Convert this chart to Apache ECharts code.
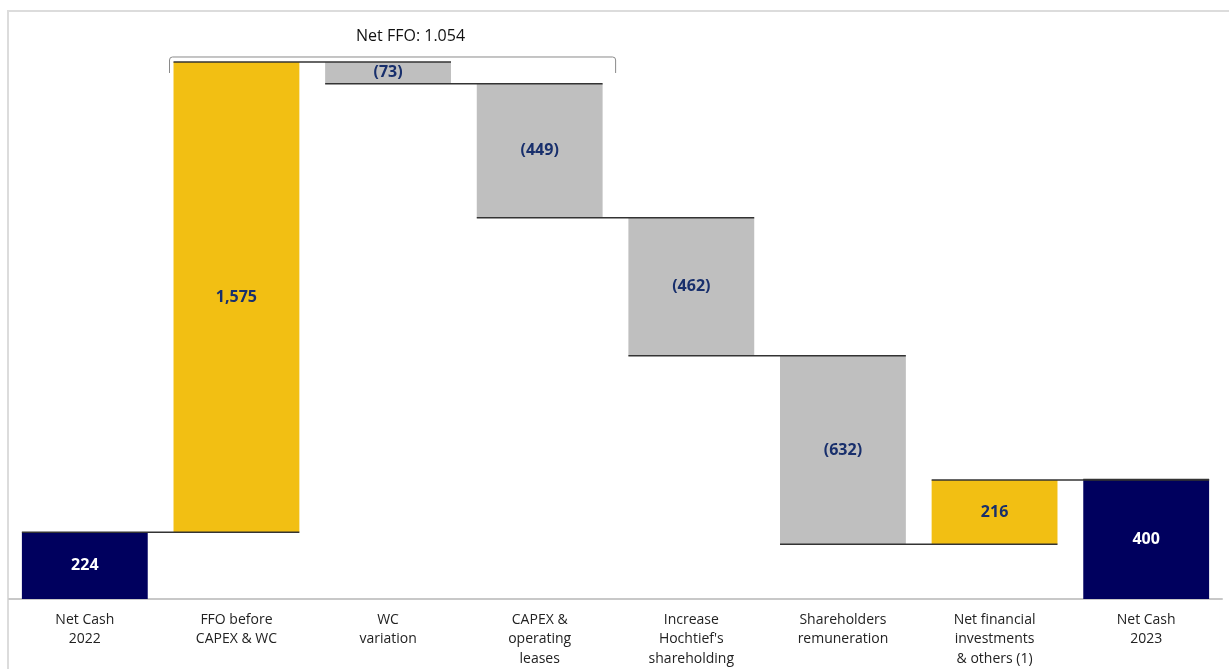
<!DOCTYPE html>
<html>
<head>
<meta charset="utf-8">
<script src="https://cdn.jsdelivr.net/npm/echarts@6/dist/echarts.min.js"></script>
<style>
  html, body { margin: 0; padding: 0; background: #fff; }
  #frame {
    position: absolute; left: 7px; top: 10px; right: 0; bottom: 0;
    border-top: 2px solid #dcdcdc; border-left: 2px solid #dcdcdc;
  }
  #chart { position: absolute; left: 0; top: 0; width: 1229px; height: 669px; }
</style>
</head>
<body>
<div id="frame"></div>
<div id="chart"></div>
<script>
const categories = [
  'Net Cash\n2022',
  'FFO before\nCAPEX & WC',
  'WC\nvariation',
  'CAPEX &\noperating\nleases',
  'Increase\nHochtief\'s\nshareholding',
  'Shareholders\nremuneration',
  'Net financial\ninvestments\n& others (1)',
  'Net Cash\n2023'
]
const changes = [224, 1575, -73, -449, -462, -632, 216, 400]
// 'total' bars start at zero, 'step' bars float on the running total
const kinds = ['total', 'step', 'step', 'step', 'step', 'step', 'step', 'total']
const bracketText = 'Net FFO: 1.054'
const bracketFrom = 1
const bracketTo = 3

const NAVY = '#00005e'
const YELLOW = '#f2bf13'
const GREY = '#bfbfbf'
const LABEL_BLUE = '#182f6c'

// build invisible base + visible bar, and the running level after each bar
const base = []
const shown = []
const levels = []
let running = 0
changes.forEach((v, i) => {
  if (kinds[i] === 'total') {
    base.push(0)
    shown.push(v)
    running = v
  } else {
    const next = running + v
    base.push(Math.min(running, next))
    shown.push(Math.abs(v))
    running = next
  }
  levels.push(running)
})

const barColor = (i) => {
  if (kinds[i] === 'total') return NAVY
  return changes[i] >= 0 ? YELLOW : GREY
}

const fmt = (v) => {
  const s = Math.abs(v).toLocaleString('en-US')
  return v < 0 ? '(' + s + ')' : s
}

const BAR_RATIO = 0.83

const chart = echarts.init(document.getElementById('chart'))

const option = {
  animation: false,
  grid: { left: 9, right: 7, top: 2, bottom: 70, outerBoundsMode: 'none', containLabel: false },
  xAxis: {
    type: 'category',
    data: categories,
    axisLine: { lineStyle: { color: '#c8c8c8', width: 2 } },
    axisTick: { show: false },
    axisLabel: {
      color: '#222',
      fontFamily: 'Open Sans',
      fontSize: 14,
      lineHeight: 19.5,
      margin: 11,
      interval: 0
    }
  },
  yAxis: {
    type: 'value',
    min: 0,
    max: 2000,
    show: false,
    splitLine: { show: false }
  },
  series: [
    {
      type: 'bar',
      stack: 'wf',
      data: base,
      barCategoryGap: '17%',
      itemStyle: { color: 'transparent' },
      silent: true
    },
    {
      type: 'bar',
      stack: 'wf',
      barCategoryGap: '17%',
      data: shown.map((v, i) => ({
        value: v,
        itemStyle: { color: barColor(i) },
        label: { color: kinds[i] === 'total' ? '#fff' : LABEL_BLUE }
      })),
      label: {
        show: true,
        position: 'inside',
        fontFamily: 'Open Sans',
        fontWeight: 'bold',
        fontSize: 16,
        formatter: (p) => fmt(changes[p.dataIndex])
      }
    },
    {
      // connector lines: level after bar i, from bar i left edge to bar i+1 right edge
      type: 'custom',
      data: levels.map((lv, i) => [i, lv]),
      z: 5,
      renderItem: (params, api) => {
        const i = api.value(0)
        const lv = api.value(1)
        const half = api.size([1, 0])[0] * BAR_RATIO / 2
        const p1 = api.coord([i, lv])
        const j = Math.min(i + 1, categories.length - 1)
        const p2 = api.coord([j, lv])
        return {
          type: 'line',
          shape: { x1: p1[0] - half, y1: p1[1], x2: p2[0] + half, y2: p2[1] },
          style: { stroke: '#333', lineWidth: 1.5 }
        }
      }
    },
    {
      // bracket over the FFO steps
      type: 'custom',
      data: [[bracketFrom, bracketTo, Math.max(...levels)]],
      z: 6,
      renderItem: (params, api) => {
        const step = api.size([1, 0])[0]
        const half = step * BAR_RATIO / 2
        const top = api.coord([api.value(0), api.value(2)])
        const x1 = top[0] - half - 4
        const x2 = api.coord([api.value(1), 0])[0] + half + 13
        const y = top[1] - 5
        const r = 3
        return {
          type: 'group',
          children: [
            {
              type: 'path',
              shape: {
                pathData: 'M' + x1 + ' ' + (y + 16) + ' L' + x1 + ' ' + (y + r) +
                  ' Q' + x1 + ' ' + y + ' ' + (x1 + r) + ' ' + y +
                  ' L' + (x2 - r) + ' ' + y +
                  ' Q' + x2 + ' ' + y + ' ' + x2 + ' ' + (y + r) +
                  ' L' + x2 + ' ' + (y + 16)
              },
              style: { stroke: '#8a8a8a', lineWidth: 1, fill: null }
            },
            {
              type: 'text',
              style: {
                text: bracketText,
                x: (x1 + x2) / 2 + 18,
                y: y - 21,
                align: 'center',
                verticalAlign: 'middle',
                fontFamily: 'Open Sans',
                fontSize: 16,
                fill: '#111'
              }
            }
          ]
        }
      }
    }
  ]
}

chart.setOption(option)
</script>
</body>
</html>
